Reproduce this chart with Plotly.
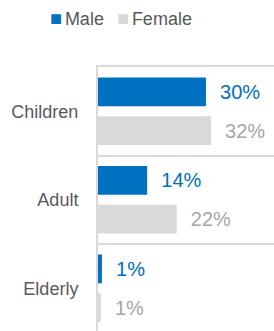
import plotly.graph_objects as go

categories = ["Children", "Adult", "Elderly"]
male_values = [30.3, 13.8, 1.1]
female_values = [31.7, 22.1, 0.8]
series_names = ["Male", "Female"]

BLUE = "#0070c0"
GRAY_BAR = "#d9d9d9"
GRAY_TEXT = "#a6a6a6"
LABEL = "#595959"
FONT = "Liberation Sans, Arial, sans-serif"

positions = list(range(len(categories)))
pad = "\u00a0\u00a0"

fig = go.Figure()
fig.add_trace(go.Bar(
    name=series_names[0], y=positions, x=male_values, orientation="h",
    marker=dict(color=BLUE, line=dict(width=0)),
    texttemplate=pad + "%{x:.0f}%", textposition="outside",
    textfont=dict(color=BLUE, size=20, family=FONT),
    cliponaxis=False,
))
fig.add_trace(go.Bar(
    name=series_names[1], y=positions, x=female_values, orientation="h",
    marker=dict(color=GRAY_BAR, line=dict(width=0)),
    texttemplate=pad + "%{x:.0f}%", textposition="outside",
    textfont=dict(color=GRAY_TEXT, size=20, family=FONT),
    cliponaxis=False,
))

# legend drawn as text keys (square swatch + name)
legend_colors = [BLUE, GRAY_BAR]
legend_x = [-0.284, 0.097]
for name, col, lx in zip(series_names, legend_colors, legend_x):
    fig.add_annotation(
        xref="paper", yref="paper", x=lx, y=1.186,
        xanchor="left", yanchor="middle", showarrow=False,
        text=(f'<span style="color:{col};font-size:20px">■</span>'
              f'<span style="font-size:10px">\u00a0</span>{name}'),
        font=dict(size=18, color=LABEL, family=FONT),
    )

fig.update_layout(
    width=274, height=331,
    margin=dict(l=98, r=0, t=67, b=0, pad=0, autoexpand=False),
    paper_bgcolor="white", plot_bgcolor="white",
    barmode="group", bargap=0.124, bargroupgap=0.256,
    font=dict(family=FONT, color=LABEL, size=18),
    showlegend=False,
    xaxis=dict(range=[0, 49.4], side="top", showgrid=False, zeroline=False,
               showticklabels=False, ticks="", showline=True,
               linecolor=GRAY_BAR, linewidth=2, fixedrange=True,
               automargin=False),
    yaxis=dict(range=[-0.5 + 264 / 88.5, -0.5], tickvals=positions,
               ticktext=categories, showgrid=False, zeroline=False,
               ticks="", showline=True, linecolor=GRAY_BAR, linewidth=2,
               ticklabelstandoff=14, automargin=False,
               tickfont=dict(size=18, color=LABEL, family=FONT),
               minor=dict(tickvals=[0.5, 1.5], showgrid=True,
                          gridcolor=GRAY_BAR, gridwidth=2, ticks=""),
               fixedrange=True),
)

fig.write_html(
    "out.html",
    config={"displayModeBar": False, "staticPlot": True},
    post_script="document.body.style.margin='0';document.body.style.padding='0';",
)
